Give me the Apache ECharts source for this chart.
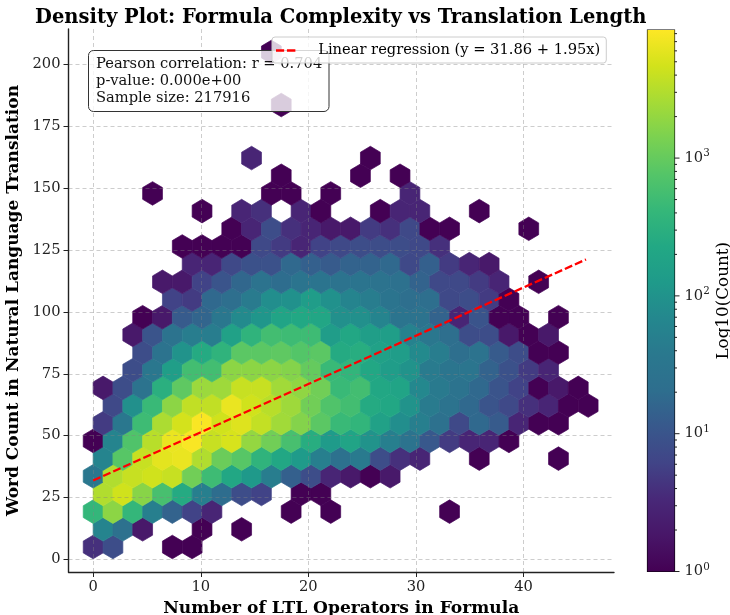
<!DOCTYPE html>
<html>
<head>
<meta charset="utf-8">
<style>html,body{margin:0;padding:0;background:#fff}#c{width:730px;height:615px}</style>
<script src="https://cdn.jsdelivr.net/npm/echarts@6/dist/echarts.min.js"></script>
</head>
<body>
<div id="c"></div>
<script>
// hexbin lattice (even rows start at x=0, odd rows offset half a bin)
const binWidth = 1.84;
const binHeight = 14.286;
const yOrigin = 5;

// counts per hexagon, one array per lattice row (bottom to top), index = column
const k00 = [4,8,0,0,1,1];
const k01 = [60,25,2,0,0,1,0,1];
const k02 = [400,1800,400,50,15,6,3,0,0,0,1,0,1,0,0,0,0,0,1];
const k03 = [3000,4500,1700,600,250,50,20,8,6,0,1,1];
const k04 = [35,3000,4000,4500,4000,1200,500,220,120,45,14,8,3,2,1,2];
const k05 = [60,800,4000,6000,6500,3000,1100,800,350,220,130,50,25,40,8,4,3,0,0,1,0,0,0,1];
const k06 = [1,60,700,3300,6500,8000,4000,5000,2000,1200,600,280,130,190,100,50,28,11,5,3,3,1];
const k07 = [5,35,500,2800,4800,8000,4500,5500,3800,2400,1600,850,450,380,170,85,50,25,7,18,12,3,1,1];
const k08 = [0,7,90,450,1800,3700,3700,6500,4500,3300,2300,1200,700,550,250,220,100,42,28,18,10,7,4,3,1,1];
const k09 = [2,8,28,300,900,2200,2300,4000,4000,2400,1900,1200,450,550,220,190,70,40,27,18,10,6,1,2,1];
const k10 = [0,0,8,35,150,550,550,1800,1800,1800,1600,1000,450,380,220,140,100,42,32,32,15,9,5,3];
const k11 = [0,0,8,28,100,250,350,850,850,900,750,850,250,280,170,140,75,45,22,28,12,8,1,1];
const k12 = [0,0,2,10,28,45,45,170,350,550,500,500,140,220,150,150,55,35,22,8,8,2,1,2];
const k13 = [0,0,1,2,12,16,35,75,110,190,230,210,90,90,60,30,28,15,3,10,1,1,0,1];
const k14 = [0,0,0,0,6,5,18,22,42,85,95,140,95,60,45,30,22,22,7,8,5,1];
const k15 = [0,0,0,2,2,6,10,17,28,20,30,30,28,30,28,25,15,7,7,5,3,0,1];
const k16 = [0,0,0,0,0,3,3,7,9,9,18,14,12,15,15,18,7,14,5,3,2];
const k17 = [0,0,0,0,1,1,1,1,7,5,3,6,7,8,8,8,7,4];
const k18 = [0,0,0,0,0,0,0,1,3,8,4,3,2,2,5,4,7,1,1,0,0,0,1];
const k19 = [0,0,0,0,0,1,0,3,4,0,3,1,0,0,1,3,3,0,0,1];
const k20 = [0,0,0,1,0,0,0,0,0,1,1,0,1,0,0,0,3];
const k21 = [0,0,0,0,0,0,0,0,0,1,0,0,0,1,0,1];
const k22 = [0,0,0,0,0,0,0,0,3,0,0,0,0,0,1];
const k23 = [];
const k24 = [];
const k25 = [0,0,0,0,0,0,0,0,0,1];
const k26 = [];
const k27 = [];
const k28 = [0,0,0,0,0,0,0,0,0,1];
const hexRows = [k00,k01,k02,k03,k04,k05,k06,k07,k08,k09,k10,k11,k12,k13,k14,k15,k16,k17,k18,k19,k20,k21,k22,k23,k24,k25,k26,k27,k28];

const xTicks = [0,10,20,30,40];
const yTicks = [0,25,50,75,100,125,150,175,200];
const countMax = 8500;
const cbMajor = [1,10,100,1000];
const cbMinor = [2,3,4,5,6,7,8,9,20,30,40,50,60,70,80,90,200,300,400,500,600,700,800,900,2000,3000,4000,5000,6000,7000,8000];
const regIntercept = 31.86;
const regSlope = 1.95;
const regX = [0, 45.8];

const statLines = ['Pearson correlation: r = 0.704','p-value: 0.000e+00','Sample size: 217916'];
const titleText = 'Density Plot: Formula Complexity vs Translation Length';
const xName = 'Number of LTL Operators in Formula';
const yName = 'Word Count in Natural Language Translation';
const cbName = 'Log10(Count)';
const legendName = 'Linear regression (y = 31.86 + 1.95x)';

const viridis = ['#440154','#481668','#482878','#414487','#38588c','#2e6e8e','#2a788e','#24878e','#1f9a8a','#22a884','#35b779','#54c568','#7ad151','#a5db36','#d2e21b','#fde725'];
const FONT = '"DejaVu Serif"';

function hexToRgb(h){return [1,3,5].map(i=>parseInt(h.substr(i,2),16));}
function colorAt(t){
  t=Math.max(0,Math.min(1,t));
  const p=t*(viridis.length-1), i=Math.min(Math.floor(p),viridis.length-2), f=p-i;
  const a=hexToRgb(viridis[i]), b=hexToRgb(viridis[i+1]);
  return 'rgb('+a.map((v,j)=>Math.round(v+(b[j]-v)*f)).join(',')+')';
}
const logMax=Math.log10(countMax);

const hexData=[];
hexRows.forEach((row,k)=>{
  row.forEach((c,i)=>{
    if(c>0) hexData.push([(k%2?binWidth/2:0)+i*binWidth, yOrigin+k*binHeight/2, c]);
  });
});

const chart=echarts.init(document.getElementById('c'),null,{renderer:'canvas'});
const PL=[[.5,-.5],[.5,.5],[0,1],[-.5,.5],[-.5,-.5],[0,-1]];

const option={
  animation:false,
  backgroundColor:'#fff',
  title:{text:titleText,left:30,top:3,textStyle:{fontFamily:FONT,fontWeight:'bold',fontSize:19.5,color:'#000'}},
  legend:{
    show:true,left:272,top:37,z:60,
    data:[{name:legendName,icon:'path://M0 0H13V4H0Z M17.5 0H31V4H17.5Z'}],
    itemWidth:31,itemHeight:2.5,itemGap:0,
    padding:[6,6,5,4],
    backgroundColor:'rgba(255,255,255,0.8)',borderColor:'#ccc',borderWidth:1,borderRadius:3,
    textStyle:{fontFamily:FONT,fontSize:14.67,color:'#000',padding:[0,0,0,12]}
  },
  grid:[
    {left:68.5,top:29,width:545.5,height:543,outerBoundsMode:'none'},
    {left:647.5,top:30,width:27,height:541.5,outerBoundsMode:'none',show:true,borderColor:'#000',borderWidth:1.2,backgroundColor:'transparent'}
  ],
  xAxis:[
    {type:'value',gridIndex:0,min:-2.29,max:48.4,z:5,
     name:xName,nameLocation:'middle',nameGap:27,
     nameTextStyle:{fontFamily:FONT,fontWeight:'bold',fontSize:17.1,color:'#000'},
     axisLine:{onZero:false,lineStyle:{color:'#222',width:1.4}},
     axisTick:{show:true,length:5,customValues:xTicks,lineStyle:{color:'#222',width:1}},
     axisLabel:{customValues:xTicks,margin:8,fontFamily:FONT,fontSize:14.67,color:'#222'},
     splitLine:{show:true,lineStyle:{color:'rgba(130,130,130,0.4)',type:[4,3],width:1}}},
    {type:'value',gridIndex:1,min:0,max:1,show:false}
  ],
  yAxis:[
    {type:'value',gridIndex:0,min:-5.1,max:214.3,z:5,
     name:yName,nameLocation:'middle',nameGap:41,nameRotate:90,
     nameTextStyle:{fontFamily:FONT,fontWeight:'bold',fontSize:17,color:'#000'},
     axisLine:{onZero:false,lineStyle:{color:'#222',width:1.4}},
     axisTick:{show:true,length:5,customValues:yTicks,lineStyle:{color:'#222',width:1}},
     axisLabel:{customValues:yTicks,margin:8,fontFamily:FONT,fontSize:14.67,color:'#222'},
     splitLine:{show:true,lineStyle:{color:'rgba(130,130,130,0.4)',type:[4,3],width:1}}},
    {type:'log',gridIndex:1,position:'right',logBase:10,min:1,max:countMax,
     name:cbName,nameLocation:'middle',nameGap:41,nameRotate:90,
     nameTextStyle:{fontFamily:FONT,fontSize:16.8,color:'#000'},
     axisLine:{show:false},axisTick:{show:false},splitLine:{show:false},
     axisLabel:{customValues:cbMajor,margin:10,fontFamily:FONT,
       formatter:v=>'{b|10}{s|'+Math.round(Math.log10(v))+'}',
       rich:{b:{fontFamily:FONT,fontSize:14.67,color:'#222'},
             s:{fontFamily:FONT,fontSize:10.3,color:'#222',padding:[0,0,9,0]}}}}
  ],
  series:[
    {type:'custom',name:'hex',xAxisIndex:0,yAxisIndex:0,z:2,clip:false,
     data:hexData,
     renderItem:(p,api)=>{
       const x=api.value(0),y=api.value(1),c=api.value(2);
       const pts=PL.map(v=>api.coord([x+v[0]*binWidth,y+v[1]*binHeight/3]));
       const col=colorAt(Math.log10(c)/logMax);
       return {type:'polygon',shape:{points:pts},style:{fill:col,stroke:col,lineWidth:0.7}};
     }},
    {type:'line',name:legendName,xAxisIndex:0,yAxisIndex:0,z:10,showSymbol:false,symbol:'none',
     data:regX.map(x=>[x,regIntercept+regSlope*x]),
     lineStyle:{color:'#ff0000',type:[8,3],width:2.4},itemStyle:{color:'#ff0000'}},
    {type:'custom',name:'cbar',xAxisIndex:1,yAxisIndex:1,z:1,silent:true,clip:false,
     data:[[0,1,1,countMax]],
     renderItem:(p,api)=>{
       const a=api.coord([api.value(0),api.value(1)]),b=api.coord([api.value(2),api.value(3)]);
       return {type:'rect',shape:{x:a[0],y:b[1],width:b[0]-a[0],height:a[1]-b[1]},
         style:{fill:new echarts.graphic.LinearGradient(0,1,0,0,viridis.map((c,i)=>({offset:i/(viridis.length-1),color:c})))}};
     }},
    {type:'custom',name:'cbarTicks',xAxisIndex:1,yAxisIndex:1,z:3,silent:true,clip:false,
     data:cbMajor.map(v=>[v,5]).concat(cbMinor.map(v=>[v,2.5])),
     renderItem:(p,api)=>{
       const a=api.coord([1,api.value(0)]);
       return {type:'line',shape:{x1:a[0],y1:a[1],x2:a[0]+api.value(1),y2:a[1]},style:{stroke:'#222',lineWidth:1}};
     }}
  ],
  graphic:[
    {type:'rect',z:50,shape:{x:88.5,y:50.5,width:240.5,height:61,r:5},style:{fill:'rgba(255,255,255,0.8)',stroke:'#333',lineWidth:1}},
    {type:'text',z:51,x:96,y:56,style:{text:statLines.join('\n'),font:'14.67px '+FONT,lineHeight:17,fill:'#111',textAlign:'left',textVerticalAlign:'top'}}
  ]
};
chart.setOption(option);
</script>
</body>
</html>
